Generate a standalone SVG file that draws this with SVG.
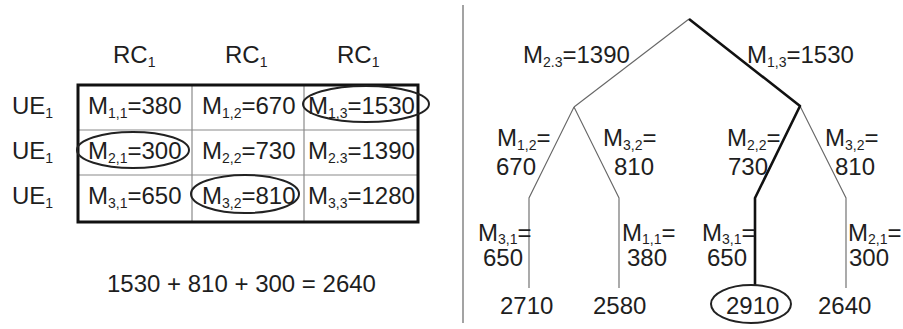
<svg xmlns="http://www.w3.org/2000/svg" width="903" height="329" viewBox="0 0 903 329">
<style>
text{font-family:"Liberation Sans",Arial,sans-serif;font-size:24px;fill:#1e1e1e}
.s{font-size:14px}
.grid{stroke:#8a8a8a;stroke-width:1.2;fill:none}
.outer{stroke:#111;stroke-width:3;fill:none}
.ring{stroke:#222;stroke-width:2;fill:none}
.thin{stroke:#666;stroke-width:1.1;fill:none}
.thick{stroke:#111;stroke-width:2.6;fill:none;stroke-linejoin:round}
</style>
<rect width="903" height="329" fill="#fff"/>

<g id="table">
  <line class="grid" x1="78" y1="130" x2="418" y2="130"/>
  <line class="grid" x1="78" y1="175" x2="418" y2="175"/>
  <line class="grid" x1="192" y1="85" x2="192" y2="222"/>
  <line class="grid" x1="304" y1="85" x2="304" y2="222"/>
  <rect class="outer" x="78" y="85" width="340" height="137"/>
</g>

<g id="headers">
  <text x="113" y="63">RC<tspan class="s" dy="4">1</tspan></text>
  <text x="225" y="63">RC<tspan class="s" dy="4">1</tspan></text>
  <text x="337" y="63">RC<tspan class="s" dy="4">1</tspan></text>
  <text x="12" y="114">UE<tspan class="s" dy="4">1</tspan></text>
  <text x="12" y="159">UE<tspan class="s" dy="4">1</tspan></text>
  <text x="12" y="204">UE<tspan class="s" dy="4">1</tspan></text>
</g>

<g id="cell-1-1"><text x="88" y="114">M<tspan class="s" dy="4">1,1</tspan><tspan dy="-4">=380</tspan></text></g>
<g id="cell-1-2"><text x="202" y="114">M<tspan class="s" dy="4">1,2</tspan><tspan dy="-4">=670</tspan></text></g>
<g id="cell-1-3"><text x="308" y="114">M<tspan class="s" dy="4">1,3</tspan><tspan dy="-4">=1530</tspan></text>
  <ellipse class="ring" cx="366" cy="104" rx="63" ry="18"/></g>
<g id="cell-2-1"><text x="88" y="159">M<tspan class="s" dy="4">2,1</tspan><tspan dy="-4">=300</tspan></text>
  <ellipse class="ring" cx="133" cy="150" rx="56" ry="18"/></g>
<g id="cell-2-2"><text x="202" y="159">M<tspan class="s" dy="4">2,2</tspan><tspan dy="-4">=730</tspan></text></g>
<g id="cell-2-3"><text x="308" y="159">M<tspan class="s" dy="4">2.3</tspan><tspan dy="-4">=1390</tspan></text></g>
<g id="cell-3-1"><text x="88" y="204">M<tspan class="s" dy="4">3,1</tspan><tspan dy="-4">=650</tspan></text></g>
<g id="cell-3-2"><text x="202" y="204">M<tspan class="s" dy="4">3,2</tspan><tspan dy="-4">=810</tspan></text>
  <ellipse class="ring" cx="245" cy="194" rx="54" ry="19"/></g>
<g id="cell-3-3"><text x="308" y="204">M<tspan class="s" dy="4">3,3</tspan><tspan dy="-4">=1280</tspan></text></g>

<g id="equation"><text x="107" y="292">1530 + 810 + 300 = 2640</text></g>

<line x1="463" y1="5" x2="463" y2="323" stroke="#666" stroke-width="1.2"/>

<g id="connectors">
  <polyline class="thin" points="689,19 574,107"/>
  <polyline class="thin" points="574,107 529,198 529,288"/>
  <polyline class="thin" points="574,107 619,198 619,288"/>
  <polyline class="thin" points="800,106 846,198 846,288"/>
  <polyline class="thick" points="689,19 800,106 755,198 755,285"/>
</g>

<g id="edge-labels">
  <text x="523" y="63">M<tspan class="s" dy="4">2.3</tspan><tspan dy="-4">=1390</tspan></text>
  <text x="747" y="63">M<tspan class="s" dy="4">1,3</tspan><tspan dy="-4">=1530</tspan></text>
  <text x="497" y="146">M<tspan class="s" dy="4">1,2</tspan><tspan dy="-4">=</tspan></text>
  <text x="496" y="175">670</text>
  <text x="603" y="146">M<tspan class="s" dy="4">3,2</tspan><tspan dy="-4">=</tspan></text>
  <text x="614" y="175">810</text>
  <text x="727" y="146">M<tspan class="s" dy="4">2,2</tspan><tspan dy="-4">=</tspan></text>
  <text x="728" y="175">730</text>
  <text x="825" y="146">M<tspan class="s" dy="4">3,2</tspan><tspan dy="-4">=</tspan></text>
  <text x="835" y="175">810</text>
  <text x="478" y="241">M<tspan class="s" dy="3">3,1</tspan><tspan dy="-3">=</tspan></text>
  <text x="483" y="266">650</text>
  <text x="622" y="241">M<tspan class="s" dy="3">1,1</tspan><tspan dy="-3">=</tspan></text>
  <text x="627" y="266">380</text>
  <text x="702" y="241">M<tspan class="s" dy="3">3,1</tspan><tspan dy="-3">=</tspan></text>
  <text x="707" y="266">650</text>
  <text x="848" y="241">M<tspan class="s" dy="3">2,1</tspan><tspan dy="-3">=</tspan></text>
  <text x="849" y="266">300</text>
</g>

<g id="leaf-1"><text x="500" y="314">2710</text></g>
<g id="leaf-2"><text x="593" y="314">2580</text></g>
<g id="leaf-3"><text x="726" y="314">2910</text><ellipse class="ring" cx="751" cy="304" rx="40" ry="19"/></g>
<g id="leaf-4"><text x="818" y="314">2640</text></g>
</svg>
